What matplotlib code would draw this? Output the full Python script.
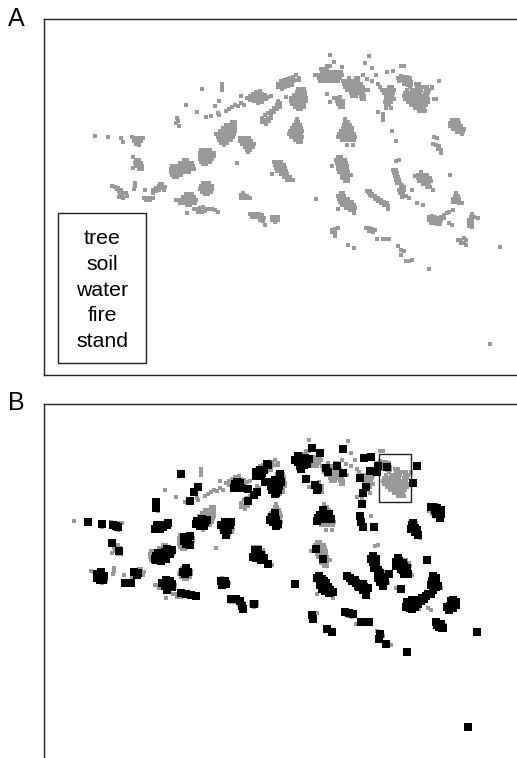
import numpy as np
import matplotlib
matplotlib.use("Agg")
import matplotlib.pyplot as plt
from matplotlib.patches import Rectangle

plt.rcParams['font.family'] = ['Liberation Sans', 'DejaVu Sans']

# map positions, in panel A pixel units
grey_loose = [
    (95,136),(108,137),(121,138),(123,142),(133,157),(133,168),(135,183),(135,186),(134,189),(145,190),
    (177,118),(178,121),(176,123),(179,126),(186,105),(202,89),(222,84),(222,87),(222,90),(197,112),
    (206,117),(211,116),(218,113),(219,115),(226,111),(229,109),(232,107),(235,105),(238,106),(241,103),
    (244,105),(215,106),(219,101),(241,96),(237,163),(187,213),(286,97),(272,174),(316,199),(265,225),
    (330,55),(369,56),(334,62),(365,63),(372,68),(401,66),(404,66),(342,67),(387,72),(393,71),(376,75),
    (363,75),(367,79),(372,81),(378,84),(327,94),(330,102),(378,112),(383,114),(383,117),(383,120),
    (439,81),(432,88),(434,137),(437,138),(433,144),(436,145),(439,146),(438,149),(441,150),(441,153),
    (396,161),(399,160),(412,190),(417,203),(423,205),(433,190),(450,175),(453,210),(449,223),(452,225),
    (478,218),(377,239),(383,239),(385,239),(389,239),(348,245),(354,248),(398,246),(401,250),(404,251),
    (401,255),(406,261),(409,261),(412,260),(429,269),(500,247),(490,344),(347,145),(353,145),(392,131),
    (396,141),(332,166),(338,209),
]
grey_small = [
    (132,137),(136,138),(140,138),(143,138),(134,141),(138,141),(141,141),(136,144),(139,145),
    (136,160),(139,160),(135,163),(138,163),(141,163),(136,166),(139,166),(142,166),(139,169),(142,169),
    (153,190),(156,188),(159,186),(162,184),(156,191),(159,190),(162,188),(165,187),(153,193),(160,184),(164,190),
    (144,198),(147,198),(150,198),(153,198),(146,200),(150,200),
    (112,186),(115,187),(117,189),(119,191),(118,188),(121,190),(120,194),(123,193),(126,193),(122,196),(119,197),(123,198),(127,196),
    (247,98),(250,96),(253,94),(256,92),(260,91),(250,100),(253,98),(256,96),(259,95),(262,94),(265,95),(268,97),(271,96),
    (254,101),(257,100),(260,99),(263,98),(266,99),(258,103),(262,102),
    (262,118),(265,115),(262,122),(265,120),(268,118),(268,113),(271,111),(274,108),(277,105),(280,103),(271,115),(274,112),
    (277,109),(280,107),(271,118),(266,124),(278,101),(269,121),
    (278,84),(281,81),(284,80),(287,79),(290,78),(293,77),(296,75),(299,78),(281,85),(284,84),(287,83),(290,82),(293,81),
    (296,80),(299,80),(282,89),(285,87),(278,87),(288,86),(292,85),
    (194,209),(197,209),(200,208),(203,207),(206,209),(209,209),(212,209),(215,210),(218,212),(198,212),(202,212),(205,211),
    (241,195),(244,195),(247,196),(241,198),(244,198),(247,198),(250,198),(243,193),
    (250,214),(253,214),(256,214),(259,214),(262,215),(252,217),(255,217),(258,217),(261,217),(264,218),(260,220),(263,221),
    (272,217),(275,217),(278,217),(272,220),(275,220),(278,220),(275,222),
    (367,191),(370,191),(369,193),(372,194),(372,196),(375,196),(375,199),(378,198),(378,201),(381,200),(381,203),(384,202),
    (387,203),(384,205),(388,206),(388,209),(370,195),
    (334,98),(337,98),(340,97),(337,101),(340,100),(343,101),(338,104),(341,104),(343,104),(340,107),(343,107),
    (398,78),(401,76),(404,77),(407,77),(410,78),(399,81),(402,80),(405,81),(408,81),(411,82),(404,84),(408,85),(411,85),
    (393,170),(396,170),(394,173),(397,173),(395,176),(398,177),(396,180),(399,180),(397,183),(400,183),(402,185),(401,187),
    (404,187),(399,190),(402,190),(404,190),(400,193),(403,193),(402,197),(406,196),(409,198),
    (456,193),(455,196),(458,196),(453,199),(456,199),(459,199),(453,202),(456,202),(459,203),(462,203),
    (429,217),(432,216),(435,217),(438,218),(441,217),(444,215),(447,213),(449,212),(429,220),(432,220),(435,220),(438,221),
    (441,220),(444,218),(431,223),(434,223),(437,224),(440,224),
    (472,214),(471,217),(474,217),(469,220),(472,220),(469,223),(472,223),(469,226),(472,227),
    (332,230),(335,229),(338,228),(332,232),(335,233),(335,236),
    (366,228),(369,228),(372,229),(375,230),(369,231),(373,232),
    (458,240),(461,240),(464,238),(466,240),(461,243),(464,243),(466,245),
]
# larger crowns, one (y, x values) row at a time
grey_rows = [
    (89,[298,301,304]),(92,[297,300,303,305]),(95,[294,297,300,303,305]),(98,[291,294,297,300,303,306]),
    (101,[291,294,297,300,303,306]),(104,[292,295,298,301,304]),(107,[295,298,301,304]),(109,[298,301]),
    (122,[232,235]),(125,[226,229,232,235]),(128,[223,226,229,232,235]),(131,[220,223,226,229,232,235]),
    (134,[216,219,222,225,228,231,234]),(137,[218,221,224,227,230,233]),(140,[219,222,225,228,231]),(143,[221,224,227]),(145,[224]),
    (138,[240,243,246,249]),(141,[240,243,246,249,251]),(144,[242,245,248,251,254]),(147,[245,248,251,253]),(150,[247,250]),(152,[248]),
    (150,[201,204,207,210]),(153,[200,203,206,209,212,214]),(156,[200,203,206,209,212,214]),(159,[200,203,206,209,212]),
    (162,[201,204,207,210]),(164,[203,206]),
    (160,[184,187]),(163,[180,183,186,189,192]),(166,[172,175,178,181,184,187,190,193]),(169,[171,174,177,180,183,186,189,192,194]),
    (172,[171,174,177,180,183,186,189]),(175,[172,175,178,181]),(177,[174,177]),
    (183,[203,206,209]),(186,[201,204,207,210,212]),(189,[200,203,206,209,212]),(192,[202,205,208,211]),(194,[205,208]),
    (194,[186,189,192]),(197,[183,186,189,192,194]),(200,[176,179,182,185,188,191,194,196]),(203,[180,183,186,189,192,195]),(205,[187,190]),
    (162,[274,277,281]),(165,[275,278,281,284]),(168,[276,279,282,285]),(171,[277,280,283,286]),(174,[281,284,287]),
    (177,[284,287,290]),(180,[287,290,293]),
    (119,[297]),(122,[296,298]),(125,[294,297,300]),(128,[292,295,298,301]),(131,[290,293,296,299,302]),(134,[289,292,295,298,301]),
    (137,[291,294,297,300,302]),(140,[295,298,301]),(142,[298,301]),
    (119,[345]),(122,[345,348]),(125,[344,347,350]),(128,[343,346,349,352]),(131,[341,344,347,350,352]),(134,[339,342,345,348,351,354]),
    (137,[338,341,344,347,350,353,355]),(140,[342,345,348,351,354]),
    (157,[338,341]),(160,[336,339,342,345]),(163,[337,340,343,346]),(166,[338,341,344,347]),(169,[338,341,344,347]),
    (172,[339,342,345,348]),(175,[342,345,348,351]),(178,[342,345,348]),(181,[345,348]),
    (193,[341,343]),(196,[338,341,344]),(199,[339,342,345,348]),(202,[340,343,346,349,352]),(205,[342,345,348,351,354]),
    (208,[346,349,352,355]),(210,[350,354]),(213,[354]),
    (66,[327,330]),(69,[321,324,327]),(72,[322,325,328,331,335,338,341]),(75,[315,318,321,324,327,330,333,336,339,342]),
    (78,[319,322,325,328,331,334,337,340]),(81,[320,323,326,329,332,335,338,343]),
    (78,[349,356,358]),(81,[346,349,352,355,358]),(84,[344,347,350,353,356,359,361]),(87,[345,348,351,354,357,360,363]),
    (90,[347,350,353,356,359,362,365,368]),(93,[351,354,357,360,363]),(96,[352,356,361,364]),(99,[362,364]),
    (87,[380,389,392]),(90,[382,385,388,391,394]),(93,[384,387,390,393]),(96,[386,389,392]),(99,[386,389,392,394]),
    (102,[385,388,391]),(105,[386,389]),(108,[386,391]),
    (84,[416,419]),(87,[410,417,421,425,427,432]),(90,[407,412,415,418,421,426,429]),(93,[405,408,411,414,417,420,425,428]),
    (96,[404,407,410,413,416,419,423,427]),(99,[405,408,411,414,417,421,425,428,434,436]),(102,[408,411,414,417,420,424,428]),
    (105,[411,414,417,420,423,426]),(108,[415,418,421,424]),(111,[419,422,425]),
    (120,[452,455,458]),(123,[450,453,456,459]),(126,[450,453,456,459,461]),(129,[453,456,459,462,464]),(132,[457,460,463]),(134,[462]),
    (172,[421]),(175,[418,421,424,427]),(176,[415]),(178,[418,421,424,427,430]),(181,[419,422,425,428,431]),(184,[423,426,429]),(187,[427,430]),
]

# black squares in panel B, in panel B pixel units
black_west = [
    (88,522),(102,524),(113,525),(118,527),(116,526),(112,543),(119,551),(97,574),(100,577),(103,580),(101,572),(104,576),
    (99,574),(102,576),(100,580),(97,578),
    (125,583),(131,583),(134,572),(138,573),(137,575),(181,474),(198,487),(194,492),(190,501),(156,502),(156,508),
    (155,529),(160,525),(163,527),(167,525),(160,529),(168,523),(157,525),(162,527),
    (197,521),(201,523),(205,522),(204,526),(200,526),(207,520),(202,519),(196,524),
    (221,525),(226,525),(230,525),(224,530),(228,530),(226,535),(225,522),(231,522),
    (184,537),(188,540),(190,536),(186,544),(190,545),(187,537),(184,541),(188,544),
    (156,560),(160,557),(165,556),(170,552),(172,550),(156,556),(163,553),(170,554),(155,559),
    (158,553),(161,561),(166,559),(167,549),(165,552),
    (183,572),(186,568),(188,572),(185,574),(186,571),(162,583),(166,580),(168,584),(172,587),(167,590),(172,584),(165,586),(170,581),
    (181,593),(186,594),(191,595),(196,596),(221,581),(225,581),(222,585),(226,584),
    (231,599),(236,599),(240,601),(242,606),(243,609),(254,604),
    (235,484),(238,487),(240,483),(237,482),(241,488),(238,484),(234,488),
    (256,472),(260,470),(262,473),(258,476),(267,464),(268,465),(261,476),(264,470),(256,476),
    (280,474),(265,482),(248,489),(257,492),(254,495),(248,501),
    (270,482),(275,480),(277,485),(272,490),(278,490),(281,482),(275,494),(274,486),(279,486),(276,493),(271,486),
    (272,517),(275,513),(276,520),(273,522),(278,524),(270,520),(274,517),(276,526),(272,518),
    (255,550),(258,550),(256,554),(261,555),(264,558),(256,558),(258,555),(260,558),(253,557),(261,560),(268,564),
]
black_east = [
    (312,448),(320,453),(343,449),(298,456),(302,460),(305,458),(300,466),(304,465),(309,459),(298,462),
    (300,458),(303,463),(295,460),(307,464),(301,469),
    (326,468),(328,472),(337,466),(343,473),(306,479),(315,485),(318,488),(317,490),
    (364,458),(371,457),(378,466),(377,472),(370,471),(387,467),(417,466),(413,483),
    (360,478),(366,487),(363,493),(362,504),(360,516),(361,522),(363,527),(374,527),
    (431,507),(435,510),(438,513),(441,514),(440,518),(433,507),(437,508),(436,514),(440,512),(441,510),
    (413,523),(415,528),(411,529),(415,532),(418,535),(412,525),(417,530),
    (323,510),(325,515),(318,518),(327,518),(331,519),(317,521),(320,515),(323,519),(329,514),(316,549),(323,559),
    (373,556),(373,562),(375,566),(378,570),(380,573),(376,559),(371,559),(376,563),(374,568),
    (398,558),(396,562),(400,565),(404,566),(403,570),(406,572),(408,574),(399,561),(403,563),(407,568),(396,566),(401,569),(404,574),
    (427,560),(378,573),(381,578),(380,582),(385,581),(383,583),(384,577),(378,578),(383,586),(389,574),(401,589),(295,584),
    (319,576),(320,580),(323,585),(325,588),(330,590),(333,592),(322,579),(326,583),(322,589),
    (317,578),(320,585),(324,581),(328,587),(325,591),(329,593),
    (347,576),(352,581),(356,583),(360,584),(364,587),(366,591),(366,595),(358,586),(350,578),(355,580),(359,587),(363,584),(363,590),(368,588),
    (433,576),(432,581),(434,585),(436,587),(433,590),(431,594),(436,578),(436,583),(431,585),(438,586),
    (407,602),(411,604),(415,601),(410,608),(415,607),(418,600),(422,598),(426,596),(428,594),
    (406,607),(412,600),(408,604),(412,609),(418,604),(421,601),(424,599),
    (451,601),(456,602),(450,606),(449,610),(453,608),(453,604),(447,607),(453,600),(456,605),
    (312,615),(313,619),(345,612),(349,613),(353,614),
    (361,622),(366,622),(369,622),(437,625),(441,624),(442,628),(443,628),(439,627),(436,622),(477,632),
    (327,629),(332,632),(380,634),(379,639),(386,644),(407,652),(468,727),
]
legend_labels = ['tree', 'soil', 'water', 'fire', 'stand']

W, H = 517, 758
# panel B shows the same ground shifted on the page
shift_x, shift_y = -21, 385


def make_panel(fig, top, bottom, letter, letter_y):
    ax = fig.add_axes([43.7 / W, 1 - bottom / H, (W - 43.7) / W, (bottom - top) / H])
    ax.set_xlim(43.7, W)
    ax.set_ylim(bottom, top)
    ax.set_xticks([])
    ax.set_yticks([])
    ax.spines['right'].set_visible(False)
    for s in ax.spines.values():
        s.set_linewidth(1.0)
        s.set_color('#222222')
    fig.text(8 / W, 1 - letter_y / H, letter, fontsize=18, va='center', ha='left', color='black')
    return ax


grey = list(grey_loose) + list(grey_small)
for row_y, row_x in grey_rows:
    grey += [(x, row_y) for x in row_x]
grey = np.array(grey)
black = np.array(black_west + black_east)

fig = plt.figure(figsize=(W / 100, H / 100), dpi=100)

ax_a = make_panel(fig, 19, 374.7, 'A', 18.5)
ax_a.scatter(grey[:, 0], grey[:, 1], s=12, marker='s', color='#999999', linewidths=0)
ax_a.add_patch(Rectangle((58, 213), 88, 150, fill=False, edgecolor='#222222', lw=1.0))
for label, y in zip(legend_labels, [238.5, 264.5, 290, 315.5, 341]):
    ax_a.text(102, y, label, fontsize=15.3, ha='center', va='center', color='black')

# bottom edge of panel B lies past the figure
ax_b = make_panel(fig, 403.7, 770, 'B', 403.5)
ax_b.scatter(grey[:, 0] + shift_x, grey[:, 1] + shift_y, s=12, marker='s', color='#999999', linewidths=0, zorder=2)
ax_b.scatter(black[:, 0], black[:, 1], s=30, marker='s', color='black', linewidths=0, zorder=3)
ax_b.add_patch(Rectangle((379, 454), 32, 48, fill=False, edgecolor='#222222', lw=1.0, zorder=4))

fig.savefig('out.png', dpi=100)
